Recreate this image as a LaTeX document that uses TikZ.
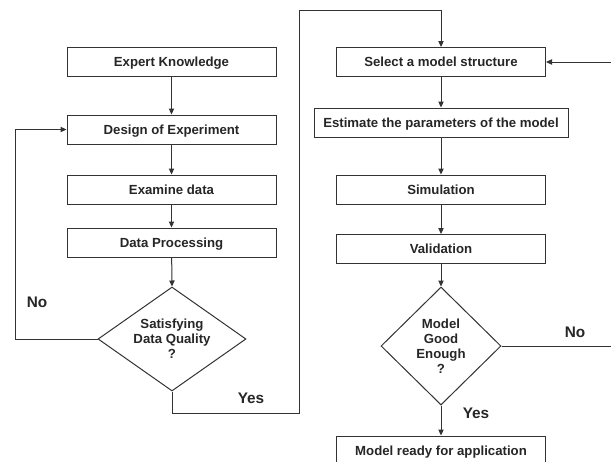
\documentclass[tikz,border=0pt]{standalone}
\usepackage{fontspec}
\setmainfont{Liberation Sans}
\usetikzlibrary{shapes.geometric,arrows.meta}
\definecolor{ln}{HTML}{333333}
\begin{document}
\begin{tikzpicture}[x=0.75pt,y=-0.75pt,line width=0.75pt,
  font=\bfseries\fontsize{9.9}{11.25}\selectfont,
  every node/.style={text=black!85},
  box/.style={draw=ln,fill=white,minimum width=156.75pt,minimum height=21.75pt,inner sep=0pt,text height=7.1pt,text depth=0pt},
  dia/.style={draw=ln,diamond,inner sep=0pt,shape aspect=1},
  lbl/.style={align=center,inner sep=0pt},
  yn/.style={inner sep=0pt,font=\bfseries\fontsize{11.5}{13}\selectfont},
  arr/.style={draw=ln,-{Triangle[length=4.5pt,width=4pt]}}]
\useasboundingbox (0,0) rectangle (611,461);
\clip (0,0) rectangle (611,461);
% left column
\node[box] (ek) at (171.5,62) {Expert Knowledge};
\node[box] (doe) at (171.5,129.5) {Design of Experiment};
\node[box] (ed) at (171.5,189.5) {Examine data};
\node[box] (dp) at (171.5,242.5) {Data Processing};
\node[dia,minimum width=111pt,minimum height=78pt] (d1) at (172,339) {};
\node[lbl] (d1t) at (d1.center) {Satisfying\\Data Quality\\?};
% right column
\node[box] (sel) at (441,62) {Select a model structure};
\node[box,minimum width=190.5pt] (est) at (441,122.5) {Estimate the parameters of the model};
\node[box] (sim) at (441,189.5) {Simulation};
\node[box] (val) at (441,249) {Validation};
\node[dia,minimum width=90pt,minimum height=88.5pt] (d2) at (441,346) {};
\node[lbl] (d2t) at ([yshift=-0.4pt]d2.center) {Model\\Good\\Enough\\?};
\node[box,minimum height=22.5pt] (mr) at (441,451) {};
\node[lbl] (mrt) at (441,452) {Model ready for application};
% labels
\node[yn] (no1) at (37,302) {No};
\node[yn] (yes1) at (251,398) {Yes};
\node[yn] (no2) at (575,332) {No};
\node[yn] (yes2) at (476,413) {Yes};
% coordinates
\coordinate (a1) at (15,339);
\coordinate (a2) at (15,129.5);
\coordinate (b1) at (172,413);
\coordinate (b2) at (299,413);
\coordinate (b3) at (299,10);
\coordinate (b4) at (441,10);
\coordinate (c1) at (616,346);
\coordinate (c2) at (616,62);
% connectors
\draw[arr] (ek) -- (doe);
\draw[arr] (doe) -- (ed);
\draw[arr] (ed) -- (dp);
\draw[arr] (dp) -- (d1.north);
\draw[arr] (d1.west) -- (a1) -- (a2) -- (doe.west);
\draw[arr] (d1.south) -- (b1) -- (b2) -- (b3) -- (b4) -- (sel.north);
\draw[arr] (sel) -- (est);
\draw[arr] (est) -- (sim);
\draw[arr] (sim) -- (val);
\draw[arr] (val) -- (d2.north);
\draw[arr] (d2.south) -- (mr.north);
\draw[arr] (d2.east) -- (c1) -- (c2) -- (sel.east);
\end{tikzpicture}
\end{document}
